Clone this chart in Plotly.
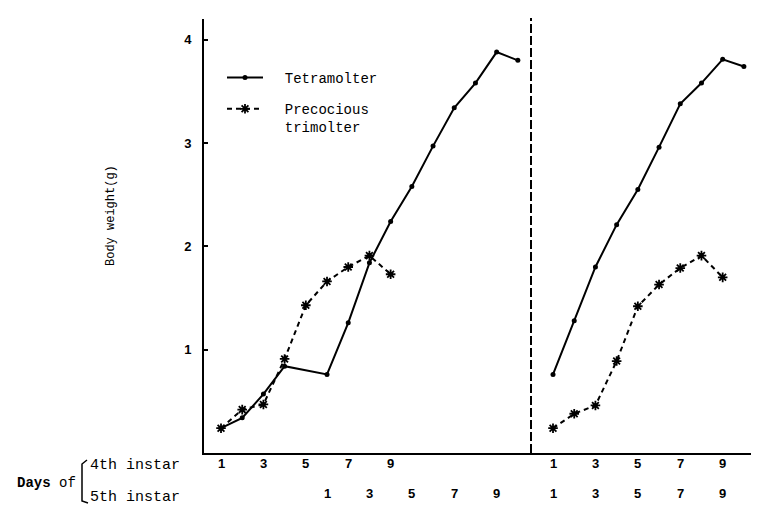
import plotly.graph_objects as go

# ---------------- data ----------------
days_4th_tetra = [1, 2, 3, 4]
tetra_4th = [0.24, 0.34, 0.57, 0.84]
days_5th = [1, 2, 3, 4, 5, 6, 7, 8, 9, 10]
tetra_5th_left = [0.76, 1.26, 1.84, 2.24, 2.58, 2.97, 3.34, 3.58, 3.88, 3.80]
days_tri = [1, 2, 3, 4, 5, 6, 7, 8, 9]
tri_left = [0.24, 0.42, 0.47, 0.91, 1.43, 1.66, 1.80, 1.91, 1.73]

tetra_right = [0.76, 1.28, 1.80, 2.21, 2.55, 2.96, 3.38, 3.58, 3.81, 3.74]
tri_right = [0.24, 0.38, 0.46, 0.89, 1.42, 1.63, 1.79, 1.91, 1.70]

FIFTH_START = 5          # 5th-instar day 1 sits at 4th-instar day 6
tick_days = [1, 3, 5, 7, 9]
y_ticks = [1, 2, 3, 4]

# ---------------- layout geometry ----------------
W, H = 759, 505
L, R, T, B = 196, 0, 11, 60
PW, PH = W - L - R, H - T - B
def px(x):
    return (x - L) / PW
def py(y):
    return (H - B - y) / PH

split = px(523)

mono = "Liberation Mono, Courier New, monospace"
sans = "Liberation Sans, Arial, sans-serif"
NB = "\u00a0\u00a0"

fig = go.Figure()

tetra_left_x = days_4th_tetra + [d + FIFTH_START for d in days_5th]
tetra_left_y = tetra_4th + tetra_5th_left

tetra_line = dict(color="black", width=2)
tetra_marker = dict(symbol="circle", size=5, color="black")
tri_line = dict(color="black", width=2, dash="5px,4px")
tri_marker = dict(symbol="asterisk-open", size=8, color="black",
                  line=dict(color="black", width=1.8))

fig.add_trace(go.Scatter(
    x=tetra_left_x, y=tetra_left_y, name=NB + "Tetramolter",
    legendgroup="tetra", mode="lines+markers", xaxis="x", yaxis="y",
    line=tetra_line, marker=tetra_marker,
))
fig.add_trace(go.Scatter(
    x=days_tri, y=tri_left, name=NB + "Precocious<br>" + NB + "trimolter",
    legendgroup="tri", mode="lines+markers", xaxis="x", yaxis="y",
    line=tri_line, marker=tri_marker,
))
fig.add_trace(go.Scatter(
    x=days_5th, y=tetra_right, showlegend=False, legendgroup="tetra",
    mode="lines+markers", xaxis="x2", yaxis="y",
    line=tetra_line, marker=tetra_marker,
))
fig.add_trace(go.Scatter(
    x=days_tri, y=tri_right, showlegend=False, legendgroup="tri",
    mode="lines+markers", xaxis="x2", yaxis="y",
    line=tri_line, marker=tri_marker,
))

annotations = []
tick_font = dict(family=sans, size=13, color="black")
for d in tick_days:
    annotations.append(dict(x=d, xref="x", y=0, yref="paper", yshift=-20,
                            text="<b>%d</b>" % d, showarrow=False, font=tick_font))
    annotations.append(dict(x=d + FIFTH_START, xref="x", y=0, yref="paper", yshift=-50,
                            text="<b>%d</b>" % d, showarrow=False, font=tick_font))
    annotations.append(dict(x=d, xref="x2", y=0, yref="paper", yshift=-20,
                            text="<b>%d</b>" % d, showarrow=False, font=tick_font))
    annotations.append(dict(x=d, xref="x2", y=0, yref="paper", yshift=-50,
                            text="<b>%d</b>" % d, showarrow=False, font=tick_font))

annotations += [
    dict(x=px(80), y=py(457), xref="paper", yref="paper", xanchor="left",
         yanchor="middle", text="4th instar", showarrow=False,
         font=dict(family=mono, size=15, color="black")),
    dict(x=px(80), y=py(489), xref="paper", yref="paper", xanchor="left",
         yanchor="middle", text="5th instar", showarrow=False,
         font=dict(family=mono, size=15, color="black")),
    dict(x=px(7), y=py(475), xref="paper", yref="paper", xanchor="left",
         yanchor="middle", text="<b>Days</b> of", showarrow=False,
         font=dict(family=mono, size=14, color="black")),
    dict(x=px(103), y=py(208), xref="paper", yref="paper", xanchor="center",
         yanchor="middle", text="Body weight(g)", textangle=-90, showarrow=False,
         font=dict(family=mono, size=12, color="black")),
]

shapes = [
    dict(type="line", xref="paper", yref="paper", x0=split, x1=split,
         y0=0, y1=py(10), line=dict(color="black", width=2, dash="9px,3px")),
    dict(type="path", xref="paper", yref="paper",
         path="M %f,%f L %f,%f L %f,%f L %f,%f" % (
             px(79), py(452), px(74), py(456), px(74), py(493), px(80), py(495)),
         line=dict(color="black", width=1.5)),
]

fig.update_layout(
    width=W, height=H,
    margin=dict(l=L, r=R, t=T, b=B, pad=0),
    plot_bgcolor="white", paper_bgcolor="white",
    xaxis=dict(domain=[0, split], range=[0.198, 15.62], showline=True,
               linecolor="black", linewidth=2, showgrid=False, zeroline=False,
               showticklabels=False, ticks=""),
    xaxis2=dict(domain=[split, 1], range=[-0.038, 11.09], showline=True,
                linecolor="black", linewidth=2, showgrid=False, zeroline=False,
                showticklabels=False, ticks="", anchor="y"),
    yaxis=dict(range=[0, 4.2], showline=True, linecolor="black", linewidth=2,
               showgrid=False, zeroline=False, tickvals=y_ticks,
               ticktext=["<b>%d</b>" % v for v in y_ticks],
               ticks="inside", ticklen=4, tickwidth=1.5, tickcolor="black",
               ticklabelstandoff=8,
               tickfont=dict(family=sans, size=13, color="black")),
    legend=dict(x=px(214), y=py(54), xanchor="left", yanchor="top",
                font=dict(family=mono, size=14, color="black"),
                itemwidth=36, valign="top", bgcolor="rgba(0,0,0,0)",
                tracegroupgap=10),
    annotations=annotations,
    shapes=shapes,
)

fig.write_html("out.html")
